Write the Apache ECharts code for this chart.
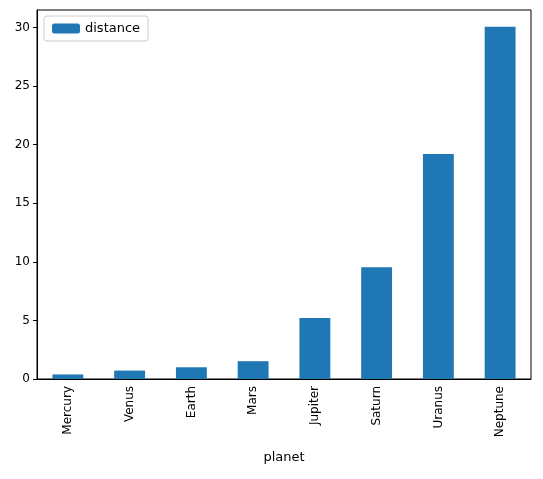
<!DOCTYPE html>
<html><head><meta charset="utf-8">
<script src="https://cdn.jsdelivr.net/npm/echarts@6/dist/echarts.min.js"></script>
<style>html,body{margin:0;padding:0;background:#fff}#c{width:543px;height:479px}</style>
</head><body><div id="c"></div>
<script>
const planets = ["Mercury","Venus","Earth","Mars","Jupiter","Saturn","Uranus","Neptune"];
const distance = [0.39,0.72,1.0,1.52,5.2,9.54,19.2,30.06];
const yTicks = [0,5,10,15,20,25,30];
const chart = echarts.init(document.getElementById('c'));
chart.setOption({
  animation:false,
  textStyle:{fontFamily:'DejaVu Sans'},
  grid:{left:37,right:12,top:10,bottom:100,show:true,borderColor:'#000',borderWidth:1},
  legend:{left:44,top:16,padding:[6,8],backgroundColor:'#fff',borderColor:'#ccc',borderWidth:1,borderRadius:3,
    itemWidth:28,itemHeight:10,textStyle:{fontSize:13,color:'#000'},data:['distance']},
  xAxis:{type:'category',data:planets,name:'planet',nameLocation:'middle',nameGap:72,
    nameTextStyle:{fontSize:13,color:'#000'},
    axisLine:{lineStyle:{color:'#000'}},axisTick:{alignWithLabel:true,lineStyle:{color:'#000'},length:4},
    axisLabel:{rotate:90,color:'#000',fontSize:12,margin:7}},
  yAxis:{type:'value',min:0,max:31.5,interval:5,
    axisLine:{show:true,lineStyle:{color:'#000'}},axisTick:{show:true,length:4,lineStyle:{color:'#000'}},
    axisLabel:{color:'#000',fontSize:12,showMaxLabel:false,margin:7},splitLine:{show:false}},
  series:[{name:'distance',type:'bar',data:distance,barWidth:'50%',itemStyle:{color:'#1f77b4'}}]
});
</script></body></html>
